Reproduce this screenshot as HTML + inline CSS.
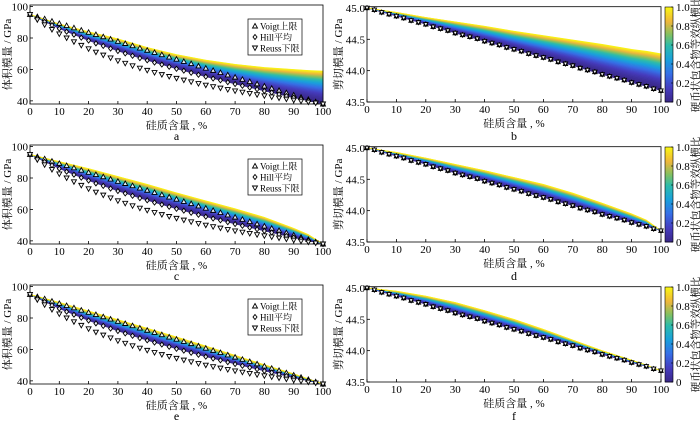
<!DOCTYPE html>
<html><head><meta charset="utf-8"><style>
html,body{margin:0;padding:0;background:#fff;}
svg{display:block;font-family:"Liberation Serif","Noto Serif CJK SC",serif;}
</style></head><body>
<svg id="fig" width="700" height="423" viewBox="0 0 700 423"></svg>
<script>
const xCats=[0,2.5,5,7.5,10,12.5,15,17.5,20,22.5,25,27.5,30,32.5,35,37.5,40,42.5,45,47.5,50,52.5,55,57.5,60,62.5,65,67.5,70,72.5,75,77.5,80,82.5,85,87.5,90,92.5,95,97.5,100];
const kVoigt=[95,93.6,92.2,90.7,89.3,87.9,86.5,85.0,83.6,82.2,80.8,79.3,77.9,76.5,75.1,73.6,72.2,70.8,69.4,67.9,66.5,65.1,63.7,62.2,60.8,59.4,58.0,56.5,55.1,53.7,52.3,50.8,49.4,48.0,46.6,45.1,43.7,42.3,40.9,39.4,38];
const kHill=[95,92.6,90.3,88.1,86.0,84.0,82.1,80.2,78.4,76.6,75.0,73.3,71.7,70.2,68.7,67.2,65.8,64.4,63.1,61.7,60.4,59.2,57.9,56.6,55.4,54.2,53.1,51.9,50.7,49.6,48.5,47.4,46.3,45.3,44.2,43.1,42.1,41.1,40.1,39.0,38];
const kReuss=[95,91.6,88.4,85.4,82.6,80.0,77.6,75.3,73.1,71.0,69.1,67.3,65.5,63.9,62.3,60.8,59.4,58.0,56.7,55.5,54.3,53.2,52.1,51.0,50.0,49.0,48.1,47.2,46.3,45.5,44.7,43.9,43.2,42.5,41.8,41.1,40.4,39.8,39.2,38.6,38];
const gShear=[45,44.97,44.93,44.90,44.87,44.84,44.80,44.77,44.74,44.70,44.67,44.64,44.60,44.57,44.54,44.51,44.47,44.44,44.41,44.37,44.34,44.31,44.27,44.24,44.21,44.18,44.14,44.11,44.08,44.04,44.01,43.98,43.94,43.91,43.88,43.85,43.81,43.78,43.75,43.71,43.68];
const bandX=[0,10,20,30,40,50,60,70,80,90,95,100];
const bandBottomK=[95,85.96,78.34,71.71,65.79,60.40,55.4,50.72,46.29,42.07,40.02,38];
const bandBottomG=[45,44.87,44.74,44.60,44.47,44.34,44.21,44.08,43.94,43.81,43.75,43.68];
const topA=[95,89,84,79.5,74,69.5,66,63.3,61.3,60,59.4,59];
const topC=[95,90.5,86,81,76,70.6,65.5,60.5,55,48,44,38];
const topE=[95,90,84.5,79,73.5,68,62.2,56.3,50.3,44.5,41.3,38];
const topB=[45,44.93,44.85,44.78,44.71,44.63,44.56,44.49,44.42,44.34,44.31,44.27];
const topD=[45,44.93,44.84,44.74,44.64,44.53,44.42,44.28,44.12,43.95,43.85,43.68];
const topF=[45,44.95,44.87,44.77,44.64,44.50,44.34,44.17,44.00,43.85,43.77,43.68];
const kTicks=[40,60,80,100];
const gTicks=[43.5,44.0,44.5,45.0];
const gTickLabels=["43.5","44.0","44.5","45.0"];
const xTicks=[0,10,20,30,40,50,60,70,80,90,100];
const cbTicks=[0,0.2,0.4,0.6,0.8,1.0];
const cbTickLabels=["0","0.2","0.4","0.6","0.8","1.0"];
const panelLetters=["a","b","c","d","e","f"];

const NS="http://www.w3.org/2000/svg";
const svg=document.getElementById('fig');
function mk(tag,attrs,parent){const e=document.createElementNS(NS,tag);for(const k in attrs)e.setAttribute(k,attrs[k]);(parent||svg).appendChild(e);return e;}
const parulaStops=[[0,[58,40,135]],[0.15,[70,60,190]],[0.3,[55,110,230]],[0.45,[25,160,220]],[0.6,[45,188,170]],[0.72,[135,192,95]],[0.85,[238,182,60]],[1,[249,245,20]]];
function parula(t){for(let i=1;i<parulaStops.length;i++){if(t<=parulaStops[i][0]){const a=parulaStops[i-1],b=parulaStops[i];const u=(t-a[0])/(b[0]-a[0]);return 'rgb('+a[1].map((v,j)=>Math.round(v+(b[1][j]-v)*u)).join(',')+')';}}return 'rgb(249,245,20)';}

function panel(row,col,top,letter){
  const oy=140*row;
  const left=col===0;
  const x0=left?30:367, x1=left?323:661;
  const yT=oy+(left?5:6.7), yB=oy+(left?104:102);
  const dMin=left?38:43.5, dMax=left?101:45.02;
  const X=v=>x0+(v/100)*(x1-x0);
  const Y=v=>yB-(v-dMin)/(dMax-dMin)*(yB-yT);
  const g=mk('g',{});
  
  
  const bottom=left?bandBottomK:bandBottomG;
  const bg=mk('g',{},g);
  
  
  const n=40;
  for(let i=0;i<n;i++){
    const c0=i/n,c1=(i+1)/n;
    const p0=Math.pow(c0,0.6),p1=Math.pow(c1,0.6);
    let pts=[];
    bandX.forEach((x,j)=>pts.push(X(x)+','+Y(bottom[j]+(top[j]-bottom[j])*p1)));
    for(let j=bandX.length-1;j>=0;j--)pts.push(X(bandX[j])+','+Y(bottom[j]+(top[j]-bottom[j])*p0));
    const col=parula((c0+c1)/2);
    const pg=mk('polygon',{points:pts.join(' '),fill:col,stroke:col,'stroke-width':0.6},bg);
    
    
  }
  const box=mk('rect',{x:x0,y:yT,width:x1-x0,height:yB-yT,fill:'none',stroke:'#000','stroke-width':0.8},g);
  
  
  xTicks.forEach(t=>{
    mk('line',{x1:X(t),x2:X(t),y1:yB,y2:yB-3,stroke:'#000','stroke-width':0.8},g);
    const tl=mk('text',{x:X(t),y:yB+11,'font-size':11,'text-anchor':'middle'},g);tl.textContent=t;
    
    
  });
  const yt=left?kTicks:gTicks;
  yt.forEach((t,i)=>{
    mk('line',{x1:x0,x2:x0+3,y1:Y(t),y2:Y(t),stroke:'#000','stroke-width':0.8},g);
    const tl=mk('text',{x:x0-2,y:Y(t)+4,'font-size':11,'text-anchor':'end'},g);tl.textContent=left?t:gTickLabels[i];
    
    
  });
  const xl=mk('text',{x:(x0+x1)/2,y:yB+25,'font-size':11,'text-anchor':'middle'},g);xl.textContent='硅质含量 , %';
  
  
  const pl=mk('text',{x:(x0+x1)/2,y:oy+140,'font-size':12,'text-anchor':'middle'},g);pl.textContent=letter;
  
  
  const yc=(yT+yB)/2, ylx=left?11:342;
  const yl=mk('text',{x:ylx,y:yc,'font-size':11,'text-anchor':'middle',transform:`rotate(-90 ${ylx} ${yc})`},g);
  yl.textContent=left?'体积模量 / GPa':'剪切模量 / GPa';
  
  
  const series=left?[kVoigt,kHill,kReuss]:[gShear,gShear,gShear];
  const shapes=['up','dia','down'];
  series.forEach((arr,si)=>{
    const sg=mk('g',{},g);
    
    
    xCats.forEach((x,j)=>{
      drawMarker(sg,shapes[si],X(x),Y(arr[j]),left?2.5:2.2);
    });
  });
  if(left){
    const lg=mk('g',{},g);
    
    
    mk('rect',{x:248,y:oy+19,width:54,height:36,fill:'#fff',stroke:'#000','stroke-width':0.7},lg);
    const labs=['Voigt上限','Hill平均','Reuss下限'];
    labs.forEach((l,i)=>{
      const ey=oy+26+i*11;
      drawMarker(lg,shapes[i],255,ey,2.5);
      const t=mk('text',{x:260,y:ey+3.5,'font-size':9},lg);t.textContent=l;
      
      
    });
  } else {
    const cg=mk('g',{},g);
    
    
    const cy0=oy+7,cy1=oy+102;
    for(let i=0;i<64;i++){
      const c=(i+0.5)/64;
      mk('rect',{x:665,y:cy1-(i+1)/64*(cy1-cy0),width:8,height:(cy1-cy0)/64+0.5,fill:parula(c)},cg);
    }
    mk('rect',{x:665,y:cy0,width:8,height:cy1-cy0,fill:'none',stroke:'#000','stroke-width':0.6},cg);
    cbTicks.forEach((t,i)=>{
      const ty=cy1-t*(cy1-cy0);
      mk('line',{x1:671,x2:673,y1:ty,y2:ty,stroke:'#000','stroke-width':0.6},cg);
      const tl=mk('text',{x:676,y:ty+4,'font-size':11},cg);tl.textContent=cbTickLabels[i];
      
      
    });
    const cx=695,cym=(cy0+cy1)/2;
    const ct=mk('text',{x:cx,y:cym+4,'font-size':10.5,'text-anchor':'middle',transform:`rotate(-90 ${cx} ${cym})`},cg);
    ct.textContent='硬币状包含物等效纵横比';
    
    
  }
}
function drawMarker(parent,shape,cx,cy,s){
  let pts;
  if(shape==='up')pts=[[cx,cy-s],[cx+s,cy+s*0.8],[cx-s,cy+s*0.8]];
  else if(shape==='down')pts=[[cx,cy+s],[cx+s,cy-s*0.8],[cx-s,cy-s*0.8]];
  else pts=[[cx,cy-s],[cx+s*0.8,cy],[cx,cy+s],[cx-s*0.8,cy]];
  const m=mk('polygon',{points:pts.map(p=>p.join(',')).join(' '),fill:'#fff','fill-opacity':0.85,stroke:'#000','stroke-width':0.9},parent);
  
  
}
const tops=[topA,topB,topC,topD,topE,topF];
for(let r=0;r<3;r++)for(let c=0;c<2;c++)panel(r,c,tops[r*2+c],panelLetters[r*2+c]);
</script>
</body></html>
